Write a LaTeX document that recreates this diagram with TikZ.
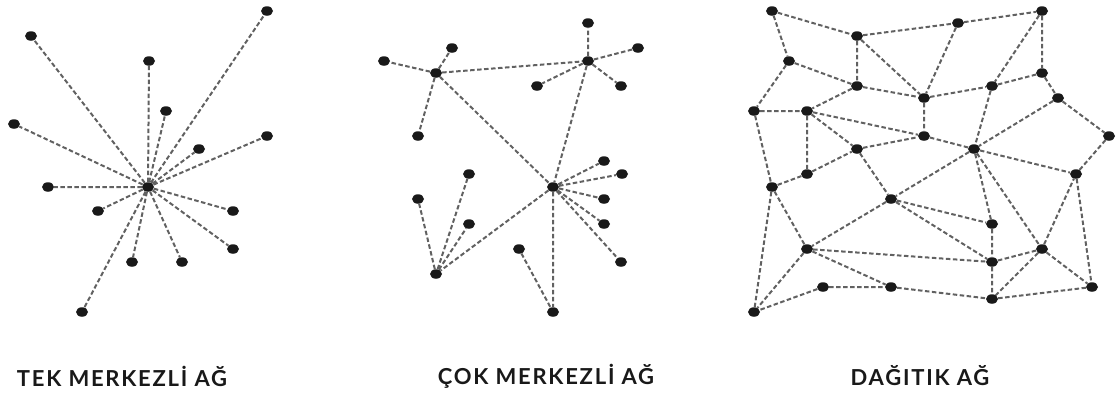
\documentclass[tikz,border=0pt]{standalone}
\usepackage{fontspec}
\setmainfont{Lato}
\usetikzlibrary{shapes.geometric}
\tikzset{
  dot/.style={ellipse, fill=black!90, inner sep=0pt, minimum width=12pt, minimum height=9.5pt},
  link/.style={draw=black!62, line width=2pt, dash pattern=on 4.5pt off 2.5pt},
  title/.style={font=\bfseries\fontsize{22}{22}\selectfont\addfontfeature{LetterSpace=8}, text=black!90}
}
\begin{document}
\begin{tikzpicture}[x=1pt, y=-1pt]
      \useasboundingbox (0,0) rectangle (1117,394);
      % tek merkezli
      \node[dot] (c) at (148,187) {};
      \node[dot] (a1) at (31,36) {};
      \node[dot] (a2) at (267,11) {};
      \node[dot] (a3) at (149,61) {};
      \node[dot] (a4) at (166,111) {};
      \node[dot] (a5) at (14,124) {};
      \node[dot] (a6) at (267,136) {};
      \node[dot] (a7) at (199,149) {};
      \node[dot] (a8) at (48,187) {};
      \node[dot] (a9) at (98,211) {};
      \node[dot] (a10) at (233,211) {};
      \node[dot] (a11) at (233,249) {};
      \node[dot] (a12) at (132,262) {};
      \node[dot] (a13) at (182,262) {};
      \node[dot] (a14) at (82,312) {};
      \draw [link] (c) -- (a1) (c) -- (a2) (c) -- (a3) (c) -- (a4) (c) -- (a5)
        (c) -- (a6) (c) -- (a7) (c) -- (a8) (c) -- (a9) (c) -- (a10)
        (c) -- (a11) (c) -- (a12) (c) -- (a13) (c) -- (a14);
      \node[title] (t1) at (122,376) {TEK MERKEZLİ AĞ};
      % cok merkezli
      \node[dot] (h1) at (436,73) {};
      \node[dot] (h2) at (588,61) {};
      \node[dot] (h3) at (553,187) {};
      \node[dot] (h4) at (436,274) {};
      \node[dot] (p1) at (384,61) {};
      \node[dot] (p2) at (452,48) {};
      \node[dot] (p3) at (418,136) {};
      \node[dot] (q1) at (588,23) {};
      \node[dot] (q2) at (638,48) {};
      \node[dot] (q3) at (537,86) {};
      \node[dot] (q4) at (621,86) {};
      \node[dot] (r1) at (604,161) {};
      \node[dot] (r2) at (622,174) {};
      \node[dot] (r3) at (604,199) {};
      \node[dot] (r4) at (604,224) {};
      \node[dot] (r5) at (621,262) {};
      \node[dot] (r6) at (553,312) {};
      \node[dot] (s1) at (418,199) {};
      \node[dot] (s2) at (469,174) {};
      \node[dot] (s3) at (469,224) {};
      \node[dot] (u1) at (519,249) {};
      \draw [link] (h1) -- (h2) (h1) -- (h3) (h2) -- (h3) (h3) -- (h4);
      \draw [link] (h1) -- (p1) (h1) -- (p2) (h1) -- (p3)
        (h2) -- (q1) (h2) -- (q2) (h2) -- (q3) (h2) -- (q4)
        (h3) -- (r1) (h3) -- (r2) (h3) -- (r3) (h3) -- (r4) (h3) -- (r5) (h3) -- (r6)
        (h4) -- (s1) (h4) -- (s2) (h4) -- (s3) (u1) -- (r6);
      \node[title] (t2) at (546,376) {ÇOK MERKEZLİ AĞ};
      % dagitik
      \node[dot] (d1) at (772,11) {};
      \node[dot] (d2) at (857,36) {};
      \node[dot] (d3) at (958,23) {};
      \node[dot] (d4) at (1042,11) {};
      \node[dot] (d5) at (789,61) {};
      \node[dot] (d6) at (857,86) {};
      \node[dot] (d7) at (924,98) {};
      \node[dot] (d8) at (992,86) {};
      \node[dot] (d9) at (1042,73) {};
      \node[dot] (d10) at (1058,98) {};
      \node[dot] (d11) at (754,111) {};
      \node[dot] (d12) at (807,111) {};
      \node[dot] (d13) at (924,136) {};
      \node[dot] (d14) at (1109,136) {};
      \node[dot] (d15) at (857,149) {};
      \node[dot] (d16) at (974,149) {};
      \node[dot] (d17) at (807,174) {};
      \node[dot] (d18) at (772,187) {};
      \node[dot] (d19) at (1076,174) {};
      \node[dot] (d20) at (891,199) {};
      \node[dot] (d21) at (992,224) {};
      \node[dot] (d22) at (807,249) {};
      \node[dot] (d23) at (1042,249) {};
      \node[dot] (d24) at (992,262) {};
      \node[dot] (d25) at (823,287) {};
      \node[dot] (d26) at (891,287) {};
      \node[dot] (d27) at (1092,287) {};
      \node[dot] (d28) at (992,299) {};
      \node[dot] (d29) at (754,312) {};
      \draw [link] (d1) -- (d2) (d1) -- (d5) (d2) -- (d3) (d3) -- (d4)
        (d2) -- (d6) (d2) -- (d7) (d3) -- (d7) (d4) -- (d8) (d4) -- (d9)
        (d5) -- (d6) (d5) -- (d11) (d6) -- (d7) (d6) -- (d12) (d7) -- (d8)
        (d8) -- (d9) (d7) -- (d13) (d8) -- (d16) (d9) -- (d10) (d10) -- (d16)
        (d10) -- (d14) (d11) -- (d12) (d11) -- (d18) (d12) -- (d17) (d12) -- (d15)
        (d12) -- (d13) (d13) -- (d16) (d15) -- (d13) (d18) -- (d17) (d17) -- (d15);
      \draw [link] (d15) -- (d20) (d16) -- (d20) (d16) -- (d19) (d14) -- (d19)
        (d16) -- (d21) (d16) -- (d23) (d20) -- (d21) (d20) -- (d24) (d20) -- (d22)
        (d18) -- (d22) (d18) -- (d29) (d22) -- (d29) (d22) -- (d24) (d22) -- (d26)
        (d21) -- (d24) (d24) -- (d23) (d24) -- (d28) (d23) -- (d28) (d23) -- (d19)
        (d23) -- (d27) (d19) -- (d27) (d25) -- (d26) (d25) -- (d29) (d26) -- (d28)
        (d28) -- (d27);
      \node[title] (t3) at (920,376) {DAĞITIK AĞ};
    \end{tikzpicture}
\end{document}
